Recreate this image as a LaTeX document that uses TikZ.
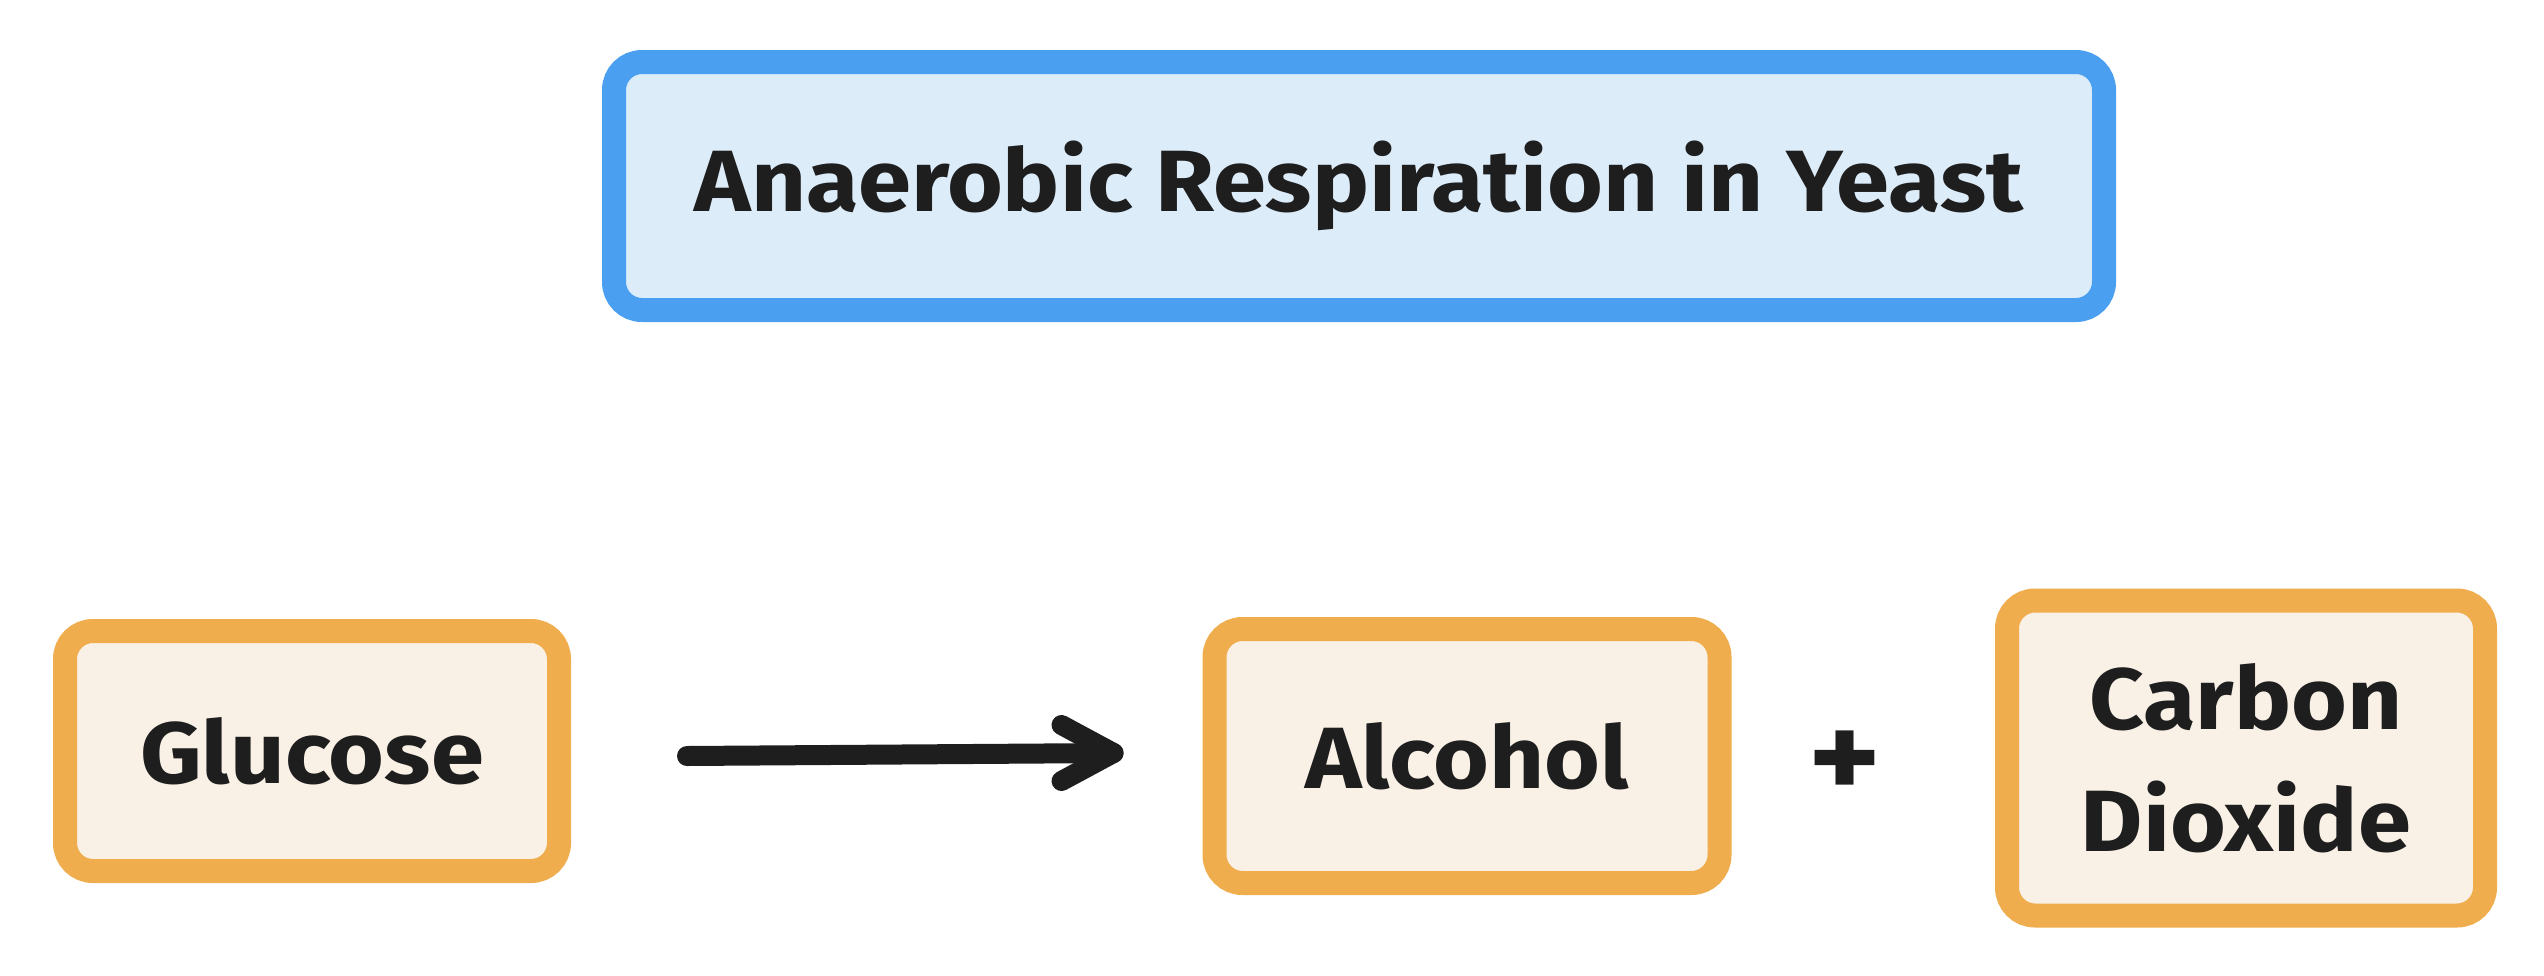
\documentclass[tikz,border=0pt]{standalone}
\usepackage{fontspec}
\setmainfont[FakeStretch=1.1]{Fira Sans}
\usetikzlibrary{calc}
\definecolor{bluestroke}{HTML}{4A9FF0}
\definecolor{bluefill}{HTML}{DDECF9}
\definecolor{orstroke}{HTML}{F0AD4E}
\definecolor{orfill}{HTML}{F9F0E6}
\definecolor{ink}{HTML}{1E1E1E}
\tikzset{
  box/.style={draw, rounded corners=28pt, line width=24pt, text=ink,
    font=\fontsize{87}{122}\selectfont\bfseries, align=center, inner sep=0pt},
  titlebox/.style={box, draw=bluestroke, fill=bluefill},
  itembox/.style={box, draw=orstroke, fill=orfill},
  arrowline/.style={draw=ink, line width=20pt, line cap=round, line join=round},
  plustext/.style={text=ink, font=\fontsize{125}{130}\selectfont\bfseries, inner sep=0pt},
}
\begin{document}
\begin{tikzpicture}[x=1pt,y=-1pt]
\useasboundingbox (0,0) rectangle (2544,975);
\node[titlebox, minimum width=1490pt, minimum height=248pt] (title) at (1359,186) {Anaerobic Respiration in Yeast};
\node[itembox, minimum width=494pt, minimum height=240pt] (glucose) at (312,751) {Glucose};
\node[itembox, minimum width=505pt, minimum height=254pt] (alcohol) at (1467,756) {Alcohol};
\node[itembox, minimum width=478pt, minimum height=315pt] (co2) at (2246,758) {Carbon\\Dioxide};
\node[plustext] (plus) at (1845,765) {+};
\coordinate (start) at ($(glucose.east)+(116,5)$);
\coordinate (tip) at ($(alcohol.west)+(-89,-3)$);
\draw[arrowline] (start) -- (tip);
\draw[arrowline] ($(tip)+(-52,-28)$) -- (tip) -- ($(tip)+(-52,28)$);
\end{tikzpicture}
\end{document}
